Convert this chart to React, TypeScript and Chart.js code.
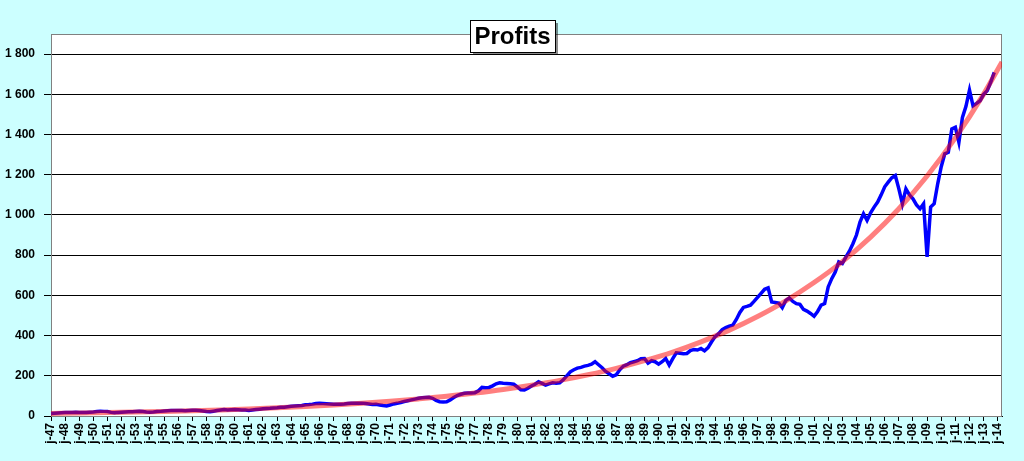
import React, { useEffect, useRef } from 'react';
import { Chart, registerables } from 'chart.js';

Chart.register(...registerables);

// quarterly profits, first value = Q1 1947
const startYear = 1947;
const profits: number[] = [
  12, 14, 15, 16, 17, 18, 18, 19, 18, 17, 18, 19, 20, 22, 24, 23,
  22, 18, 16, 18, 19, 20, 21, 21, 22, 23, 22, 20, 19, 20, 22, 23,
  25, 26, 27, 27, 27, 27, 26, 27, 28, 28, 27, 25, 22, 21, 24, 27,
  30, 32, 30, 31, 32, 31, 30, 30, 28, 30, 32, 34, 36, 37, 38, 40,
  41, 43, 44, 46, 48, 50, 51, 52, 56, 57, 59, 62, 63, 62, 61, 60,
  58, 58, 59, 60, 62, 63, 64, 64, 64, 62, 60, 57, 58, 55, 52, 50,
  55, 60, 63, 67, 72, 76, 80, 84, 88, 91, 92, 93, 88, 78, 71, 70,
  71, 80, 92, 102, 108, 113, 114, 115, 116, 125, 142, 140, 142, 150, 160, 165,
  163, 162, 160, 158, 145, 130, 129, 138, 149, 158, 170, 162, 154, 160, 165, 163,
  165, 180, 200, 220, 230, 238, 242, 248, 252, 258, 270, 255, 240, 222, 210, 198,
  205, 230, 248, 255, 265, 270, 275, 285, 286, 263, 275, 270, 258, 270, 286, 253,
  285, 314, 312, 310, 311, 325, 331, 328, 336, 324, 340, 369, 395, 410, 430, 440,
  447, 452, 480, 515, 540, 545, 551, 570, 590, 610, 630, 637, 567, 565, 562, 539,
  575, 587, 570, 559, 555, 530, 522, 510, 496, 520, 551, 559, 642, 683, 716, 766,
  758, 790, 820, 857, 900, 964, 1006, 973, 1010, 1039, 1064, 1100, 1140, 1163, 1185, 1196,
  1130, 1056, 1130, 1100, 1080, 1050, 1031, 1056, 791, 1039, 1056, 1155, 1240, 1304, 1312, 1428,
  1436, 1361, 1485, 1540, 1621, 1543, 1555, 1568, 1600, 1618, 1660, 1709,
];

// exponential trend
const trendYears: number[] = [
  1947, 1949, 1951, 1953, 1955, 1957, 1959, 1961, 1963, 1965, 1967, 1969,
  1971, 1973, 1975, 1977, 1979, 1981, 1983, 1985, 1987, 1989, 1991, 1993,
  1995, 1997, 1999, 2001, 2003, 2005, 2007, 2009, 2011, 2013, 2014.3,
];
const trendValues: number[] = [
  12.6, 14.6, 16.9, 19.6, 22.7, 26.3, 30.4, 35.2, 40.8, 47.2, 54.7, 63.3,
  73.4, 85, 98, 114, 132, 153, 177, 205, 237, 275, 318, 369,
  427, 495, 573, 664, 768, 890, 1031, 1194, 1383, 1601, 1761,
];

const yTickMax = 1800;
const font = "'Liberation Sans', Arial, sans-serif";

const fmt = (v: number) =>
  v >= 1000 ? `${Math.floor(v / 1000)} ${String(v % 1000).padStart(3, '0')}` : String(v);

const framePlugin = {
  id: 'frame',
  beforeDraw(chart: any) {
    const { ctx, chartArea: a } = chart;
    ctx.save();
    ctx.fillStyle = '#CCFFFF';
    ctx.fillRect(0, 0, chart.width, chart.height);
    ctx.fillStyle = '#FFFFFF';
    ctx.fillRect(a.left, a.top, a.right - a.left, a.bottom - a.top);
    ctx.restore();
  },
  beforeDatasetsDraw(chart: any) {
    const { ctx, chartArea: a } = chart;
    ctx.save();
    ctx.strokeStyle = '#808080';
    ctx.lineWidth = 1;
    ctx.strokeRect(a.left + 0.5, a.top + 0.5, a.right - a.left - 1, a.bottom - a.top);
    ctx.restore();
  },
  afterDraw(chart: any) {
    const { ctx } = chart;
    const x = 470, y = 20, w = 85, h = 32;
    ctx.save();
    ctx.fillStyle = 'rgba(0,0,0,0.45)';
    ctx.fillRect(x + 3, y + 3, w, h);
    ctx.fillStyle = '#FFFFFF';
    ctx.fillRect(x, y, w, h);
    ctx.strokeStyle = '#000000';
    ctx.lineWidth = 1;
    ctx.strokeRect(x + 0.5, y + 0.5, w, h);
    ctx.fillStyle = '#000000';
    ctx.font = `bold 24px ${font}`;
    ctx.textAlign = 'center';
    ctx.textBaseline = 'middle';
    ctx.fillText('Profits', x + w / 2, y + h / 2 + 1);
    ctx.restore();
  },
};

const App: React.FC = () => {
  const canvasRef = useRef<HTMLCanvasElement>(null);
  const chartRef = useRef<Chart | null>(null);

  useEffect(() => {
    if (!canvasRef.current) return;
    if (chartRef.current) chartRef.current.destroy();

    chartRef.current = new Chart(canvasRef.current, {
      type: 'line',
      data: {
        datasets: [
          {
            label: 'Trend',
            data: trendYears.map((yr, i) => ({ x: yr, y: trendValues[i] })),
            borderColor: 'rgba(255, 0, 0, 0.5)',
            borderWidth: 5,
            pointRadius: 0,
            tension: 0.4,
            cubicInterpolationMode: 'monotone',
          },
          {
            label: 'Profits',
            data: profits.map((v, i) => ({ x: startYear + i / 4, y: v })),
            borderColor: '#0000FF',
            borderWidth: 3.5,
            pointRadius: 0,
            tension: 0,
          },
        ],
      },
      options: {
        responsive: false,
        animation: false,
        layout: { padding: { top: 34, right: 22, left: 0, bottom: 0 } },
        plugins: {
          legend: { display: false },
          tooltip: { enabled: false },
          title: { display: false },
        },
        scales: {
          x: {
            type: 'linear',
            min: 1947,
            max: 2014.3,
            afterFit: (s: any) => { s.height = 45; },
            grid: {
              drawOnChartArea: false,
              drawTicks: true,
              tickLength: 5,
              tickColor: '#000000',
            },
            border: { color: '#000000', width: 1 },
            ticks: {
              stepSize: 1,
              includeBounds: false,
              autoSkip: false,
              maxRotation: 90,
              minRotation: 90,
              padding: 2,
              color: '#000000',
              font: { family: font, size: 12, weight: 'bold' },
              callback: (v: any) => `j-${String(Number(v) % 100).padStart(2, '0')}`,
            },
          },
          y: {
            min: 0,
            max: 1900,
            afterFit: (s: any) => { s.width = 51; },
            afterBuildTicks: (s: any) => {
              s.ticks = s.ticks.filter((t: any) => t.value <= yTickMax);
            },
            grid: {
              color: '#000000',
              lineWidth: 1,
              tickLength: 7,
              tickColor: '#000000',
            },
            border: { color: '#808080', width: 1 },
            ticks: {
              stepSize: 200,
              includeBounds: false,
              padding: 9,
              color: '#000000',
              font: { family: font, size: 12, weight: 'bold' },
              callback: (v: any) => fmt(Number(v)),
            },
          },
        },
      },
      plugins: [framePlugin],
    });

    return () => {
      if (chartRef.current) {
        chartRef.current.destroy();
        chartRef.current = null;
      }
    };
  }, []);

  return (
    <div style={{ position: 'fixed', left: 0, top: 0, width: 1024, height: 461, background: '#CCFFFF' }}>
      <canvas ref={canvasRef} width={1024} height={461} />
    </div>
  );
};

export default App;
